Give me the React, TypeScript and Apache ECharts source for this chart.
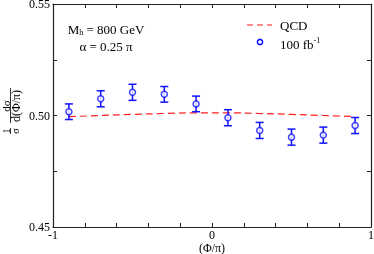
import React, { useEffect, useRef } from "react";
import * as echarts from "echarts";

const phi = [-0.9, -0.7, -0.5, -0.3, -0.1, 0.1, 0.3, 0.5, 0.7, 0.9];
const measured = [0.5017, 0.5075, 0.5104, 0.5095, 0.5052, 0.499, 0.4933, 0.4903, 0.4912, 0.4955];
const errors = [0.0035, 0.0036, 0.0036, 0.0035, 0.0035, 0.0036, 0.0036, 0.0036, 0.0036, 0.0036];
const qcd = [0.4995, 0.5, 0.5005, 0.5009, 0.5012, 0.5012, 0.5009, 0.5005, 0.5, 0.4996];
const xLabels: Record<string, string> = { "-1": "-1", "0": "0", "1": "1" };
const yLabels = [0.45, 0.5, 0.55];

const SERIF = "Liberation Serif";
const BLUE = "#1010ff";
const RED = "#ff2020";
const AX = "#222";

export default function App() {
  const ref = useRef<HTMLDivElement>(null);
  useEffect(() => {
    if (!ref.current) return;
    const chart = echarts.init(ref.current, null, { renderer: "svg" });
    const axisCommon = {
      type: "value" as const,
      axisLine: { show: true, onZero: false, lineStyle: { color: AX, width: 1.2 } },
      axisTick: { show: true, inside: true, length: 4, lineStyle: { color: AX, width: 1 } },
      splitLine: { show: false },
    };
    chart.setOption({
      animation: false,
      grid: { left: 53, right: 3, top: 4, bottom: 27, containLabel: false, outerBoundsMode: "none" },
      xAxis: [
        {
          ...axisCommon,
          min: -1,
          max: 1,
          interval: 0.2,
          position: "bottom",
          axisLabel: {
            show: true,
            margin: 2,
            fontFamily: SERIF,
            fontSize: 12,
            lineHeight: 12,
            color: "#000",
            formatter: (v: number) => {
              const k = String(Math.round(v * 10) / 10);
              return xLabels[k] ?? "";
            },
          },
        },
        {
          ...axisCommon,
          min: -1,
          max: 1,
          interval: 0.2,
          position: "top",
          axisLabel: { show: false },
        },
      ],
      yAxis: [
        {
          ...axisCommon,
          min: 0.45,
          max: 0.55,
          interval: 0.025,
          position: "left",
          axisLabel: {
            show: true,
            margin: 3,
            fontFamily: SERIF,
            fontSize: 12,
            color: "#000",
            formatter: (v: number) => {
              const hit = yLabels.find((t) => Math.abs(t - v) < 1e-6);
              return hit !== undefined ? hit.toFixed(2) : "";
            },
          },
        },
        {
          ...axisCommon,
          min: 0.45,
          max: 0.55,
          interval: 0.025,
          position: "right",
          axisLabel: { show: false },
        },
      ],
      series: [
        {
          type: "line",
          data: phi.map((x, i) => [x, qcd[i]]),
          smooth: true,
          symbol: "none",
          lineStyle: { color: RED, width: 1.2, type: [7, 4] },
          z: 1,
        },
        {
          type: "custom",
          data: phi.map((x, i) => [x, measured[i], measured[i] - errors[i], measured[i] + errors[i]]),
          renderItem: (params: any, api: any) => {
            const x = api.value(0);
            const lo = api.coord([x, api.value(2)]);
            const hi = api.coord([x, api.value(3)]);
            const hw = 4;
            const st = { stroke: BLUE, lineWidth: 1.5 };
            return {
              type: "group",
              children: [
                { type: "line", shape: { x1: lo[0], y1: lo[1], x2: hi[0], y2: hi[1] }, style: st },
                { type: "line", shape: { x1: lo[0] - hw, y1: lo[1], x2: lo[0] + hw, y2: lo[1] }, style: st },
                { type: "line", shape: { x1: hi[0] - hw, y1: hi[1], x2: hi[0] + hw, y2: hi[1] }, style: st },
              ],
            };
          },
          z: 2,
        },
        {
          type: "scatter",
          data: phi.map((x, i) => [x, measured[i]]),
          symbol: "circle",
          symbolSize: 6,
          itemStyle: { color: "#fff", borderColor: BLUE, borderWidth: 1.5 },
          z: 3,
        },
      ],
      graphic: [
        {
          type: "text",
          x: 212,
          y: 247.5,
          style: {
            text: "(Φ/π)",
            fontFamily: SERIF,
            fontSize: 12,
            lineHeight: 12,
            fill: "#000",
            align: "center",
            verticalAlign: "middle",
          },
        },
        {
          type: "text",
          x: 106,
          y: 29,
          style: {
            text: "{n|M}{s|h}{n| = 800 GeV}",
            align: "center",
            verticalAlign: "middle",
            rich: {
              n: { fontFamily: SERIF, fontSize: 13, fill: "#000" },
              s: { fontFamily: SERIF, fontSize: 8, fill: "#000", padding: [6, 0, 0, 0] },
            },
          },
        },
        {
          type: "text",
          x: 106,
          y: 46,
          style: {
            text: "α = 0.25 π",
            fontFamily: SERIF,
            fontSize: 13,
            fill: "#000",
            align: "center",
            verticalAlign: "middle",
          },
        },
        {
          type: "line",
          shape: { x1: 247, y1: 25, x2: 272, y2: 25 },
          style: { stroke: RED, lineWidth: 1.2, lineDash: [6, 4] },
        },
        {
          type: "text",
          x: 280,
          y: 25,
          style: { text: "QCD", fontFamily: SERIF, fontSize: 13, fill: "#000", verticalAlign: "middle" },
        },
        {
          type: "circle",
          shape: { cx: 260, cy: 42, r: 2.6 },
          style: { fill: "#fff", stroke: BLUE, lineWidth: 1.5 },
        },
        {
          type: "text",
          x: 280,
          y: 44,
          style: {
            text: "{n|100 fb}{s|-1}",
            verticalAlign: "middle",
            rich: {
              n: { fontFamily: SERIF, fontSize: 13, fill: "#000" },
              s: { fontFamily: SERIF, fontSize: 8, fill: "#000", padding: [0, 0, 8, 0] },
            },
          },
        },
        {
          type: "group",
          x: 10.5,
          y: 114,
          rotation: Math.PI / 2,
          children: [
            { type: "text", x: -17, y: -4, style: { text: "1", fontFamily: SERIF, fontSize: 10, fill: "#000", align: "center", verticalAlign: "middle" } },
            { type: "line", shape: { x1: -20, y1: 0, x2: -14, y2: 0 }, style: { stroke: "#000", lineWidth: 0.8 } },
            { type: "text", x: -17, y: 5, style: { text: "σ", fontFamily: SERIF, fontSize: 10, fill: "#000", align: "center", verticalAlign: "middle" } },
            { type: "text", x: 8, y: -5, style: { text: "dσ", fontFamily: SERIF, fontSize: 11, fill: "#000", align: "center", verticalAlign: "middle" } },
            { type: "line", shape: { x1: -9, y1: 0, x2: 26, y2: 0 }, style: { stroke: "#000", lineWidth: 0.8 } },
            { type: "text", x: 8, y: 5.5, style: { text: "d(Φ/π)", fontFamily: SERIF, fontSize: 12, fill: "#000", align: "center", verticalAlign: "middle" } },
          ],
        },
      ],
    });
    return () => chart.dispose();
  }, []);
  return <div ref={ref} style={{ position: "fixed", left: 0, top: 0, width: 374, height: 254 }} />;
}
